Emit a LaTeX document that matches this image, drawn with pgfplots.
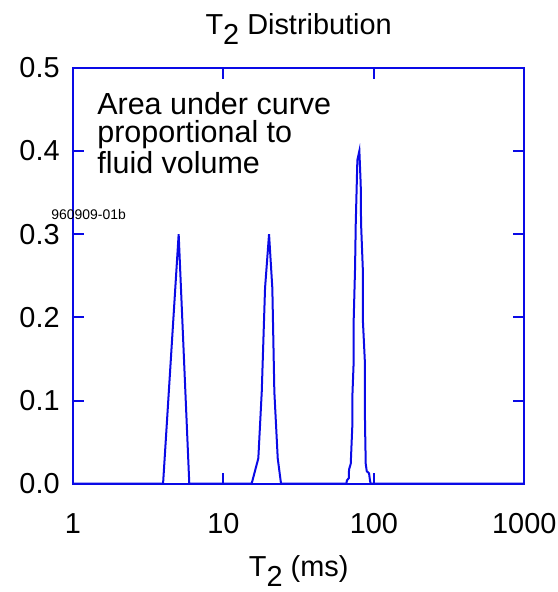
\documentclass[border=0pt]{standalone}
\usepackage{fontspec}
\setmainfont{Liberation Sans}
\usepackage{pgfplots}
\pgfplotsset{compat=1.18}
\definecolor{plotblue}{RGB}{10,10,230}
\begin{document}
\begin{tikzpicture}[font=\fontsize{14.5}{17}\selectfont]
\begin{axis}[
  name=ax,
  scale only axis, width=225.65bp, height=208bp,
  xmode=log, xmin=1, xmax=1000, ymin=0, ymax=0.5,
  clip=false,
  axis line style={plotblue, line width=1bp},
  tick style={plotblue, line width=1bp},
  major tick length=5.5bp,
  minor tick length=0pt,
  minor tick style={draw=none},
  tick align=inside,
  xtick={1,10,100,1000}, xticklabels={1,10,100,1000},
  ytick={0,0.1,0.2,0.3,0.4,0.5},
  yticklabels={0.0,0.1,0.2,0.3,0.4,0.5},
  xticklabel style={anchor=base, yshift=-25bp, inner sep=0pt},
  yticklabel style={anchor=east, xshift=-6.5bp, inner sep=0pt},
  every axis title shift=0pt,
  title={T\raisebox{-0.36em}{2} Distribution},
  title style={at={(0.5,1)}, anchor=base, yshift=16.8bp, inner sep=0pt},
  xlabel={T\raisebox{-0.36em}{2} (ms)},
  xlabel style={at={(0.5,0)}, anchor=base, yshift=-46.3bp, inner sep=0pt},
]
\addplot[plotblue, line width=1bp] coordinates {
  (1,0) (3.97,0) (5.04,0.3) (5.93,0)
  (15.4,0) (17.06,0.0305) (17.98,0.1106) (18.91,0.235) (20.1,0.3)
  (21.14,0.235) (21.8,0.1106) (22.96,0.0305) (24.15,0)
  (65.7,0) (66.2,0.004) (68.1,0.0065) (68.4,0.017) (70.2,0.024)
  (71.9,0.069) (71.9,0.103) (73.5,0.149) (73.5,0.199) (75.0,0.259)
  (75.8,0.313) (77.7,0.389) (80.1,0.4) (81.8,0.359) (82.2,0.313)
  (84.4,0.259) (84.4,0.199) (87.0,0.149) (87.0,0.103) (87.4,0.069)
  (88.3,0.024) (89.7,0.015) (92.9,0.0125) (94.3,0.0036) (95.3,0)
  (1000,0)
};
\node[anchor=north west, align=left, inner sep=0pt,
      font=\fontsize{15.3}{14.2}\selectfont]
  at (rel axis cs:0.053,0.942) {Area under curve\\proportional to\\fluid volume};
\node[anchor=base west, inner sep=0pt, font=\fontsize{7}{8}\selectfont]
  at (rel axis cs:-0.0487,0.636) {960909-01b};
\end{axis}
\pgfresetboundingbox
\useasboundingbox (ax.south west) ++(-36.5bp,-54.15bp) rectangle ([shift={(16.85bp,33.85bp)}]ax.north east);
\end{tikzpicture}
\end{document}
